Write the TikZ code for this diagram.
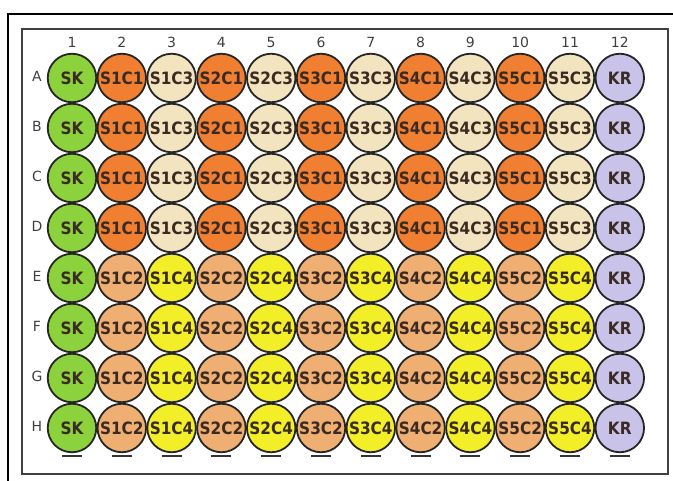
\documentclass[tikz,border=0pt]{standalone}
\usepackage{fontspec}
\setmainfont{DejaVu Sans}
\newfontfamily\wellfont{DejaVu Sans Condensed}
\definecolor{cSK}{HTML}{8CD23C}
\definecolor{cCa}{HTML}{F07F32}
\definecolor{cCc}{HTML}{F2E4BE}
\definecolor{cCb}{HTML}{EFAE72}
\definecolor{cCd}{HTML}{F2EE28}
\definecolor{cKR}{HTML}{C9C3EA}
\definecolor{txt}{HTML}{3A2A22}
\begin{document}
\begin{tikzpicture}[x=1pt,y=-1pt,
  well/.style={circle,draw=black!85,line width=1.8pt,minimum size=48.5pt,inner sep=0pt,
    font=\wellfont\bfseries\fontsize{17}{17}\selectfont,text=txt},
  lbl/.style={font=\fontsize{14}{14}\selectfont,text=black!75,inner sep=0pt},
  foot/.style={line width=2pt,draw=black!80}]
\useasboundingbox (0,0) rectangle (673,481);
\fill[white] (0,0) rectangle (673,481);
\draw[line width=1.5pt,black] (8,490) -- (8,14) -- (690,14);
\node[draw=black!75,line width=2pt,minimum width=646pt,minimum height=445pt,inner sep=0pt] (frame) at (345,251.5) {};
\foreach \c in {1,...,12}{
  \pgfmathsetmacro{\xx}{72+49.8*(\c-1)}
  \node[lbl] (col\c) at (\xx,42) {\c};
}
\foreach \r [count=\j] in {A,B,C,D,E,F,G,H}{
  \pgfmathsetmacro{\yy}{78+50*(\j-1)}
  \node[lbl] (row\r) at (37,\yy-2) {\r};
  \node[well,fill=cSK] (w\r1) at (72,\yy) {SK};
  \node[well,fill=cKR] (w\r12) at (72+49.8*11,\yy) {KR};
  \foreach \c in {2,...,11}{
    \pgfmathsetmacro{\xx}{72+49.8*(\c-1)}
    \pgfmathtruncatemacro{\s}{floor(\c/2)}
    \pgfmathtruncatemacro{\odd}{mod(\c,2)}
    \pgfmathtruncatemacro{\low}{\j>4 ? 1 : 0}
    \pgfmathtruncatemacro{\k}{1+2*\odd+\low}
    \ifcase\k\or
      \def\col{cCa}\or\def\col{cCb}\or\def\col{cCc}\or\def\col{cCd}\fi
    \node[well,fill=\col] (w\r\c) at (\xx,\yy) {S\s C\k};
  }
}
\foreach \c in {1,...,12}{
  \draw[foot] ([xshift=-10pt,yshift=-3pt]wH\c.south) -- ([xshift=10pt,yshift=-3pt]wH\c.south);
}
\end{tikzpicture}
\end{document}
